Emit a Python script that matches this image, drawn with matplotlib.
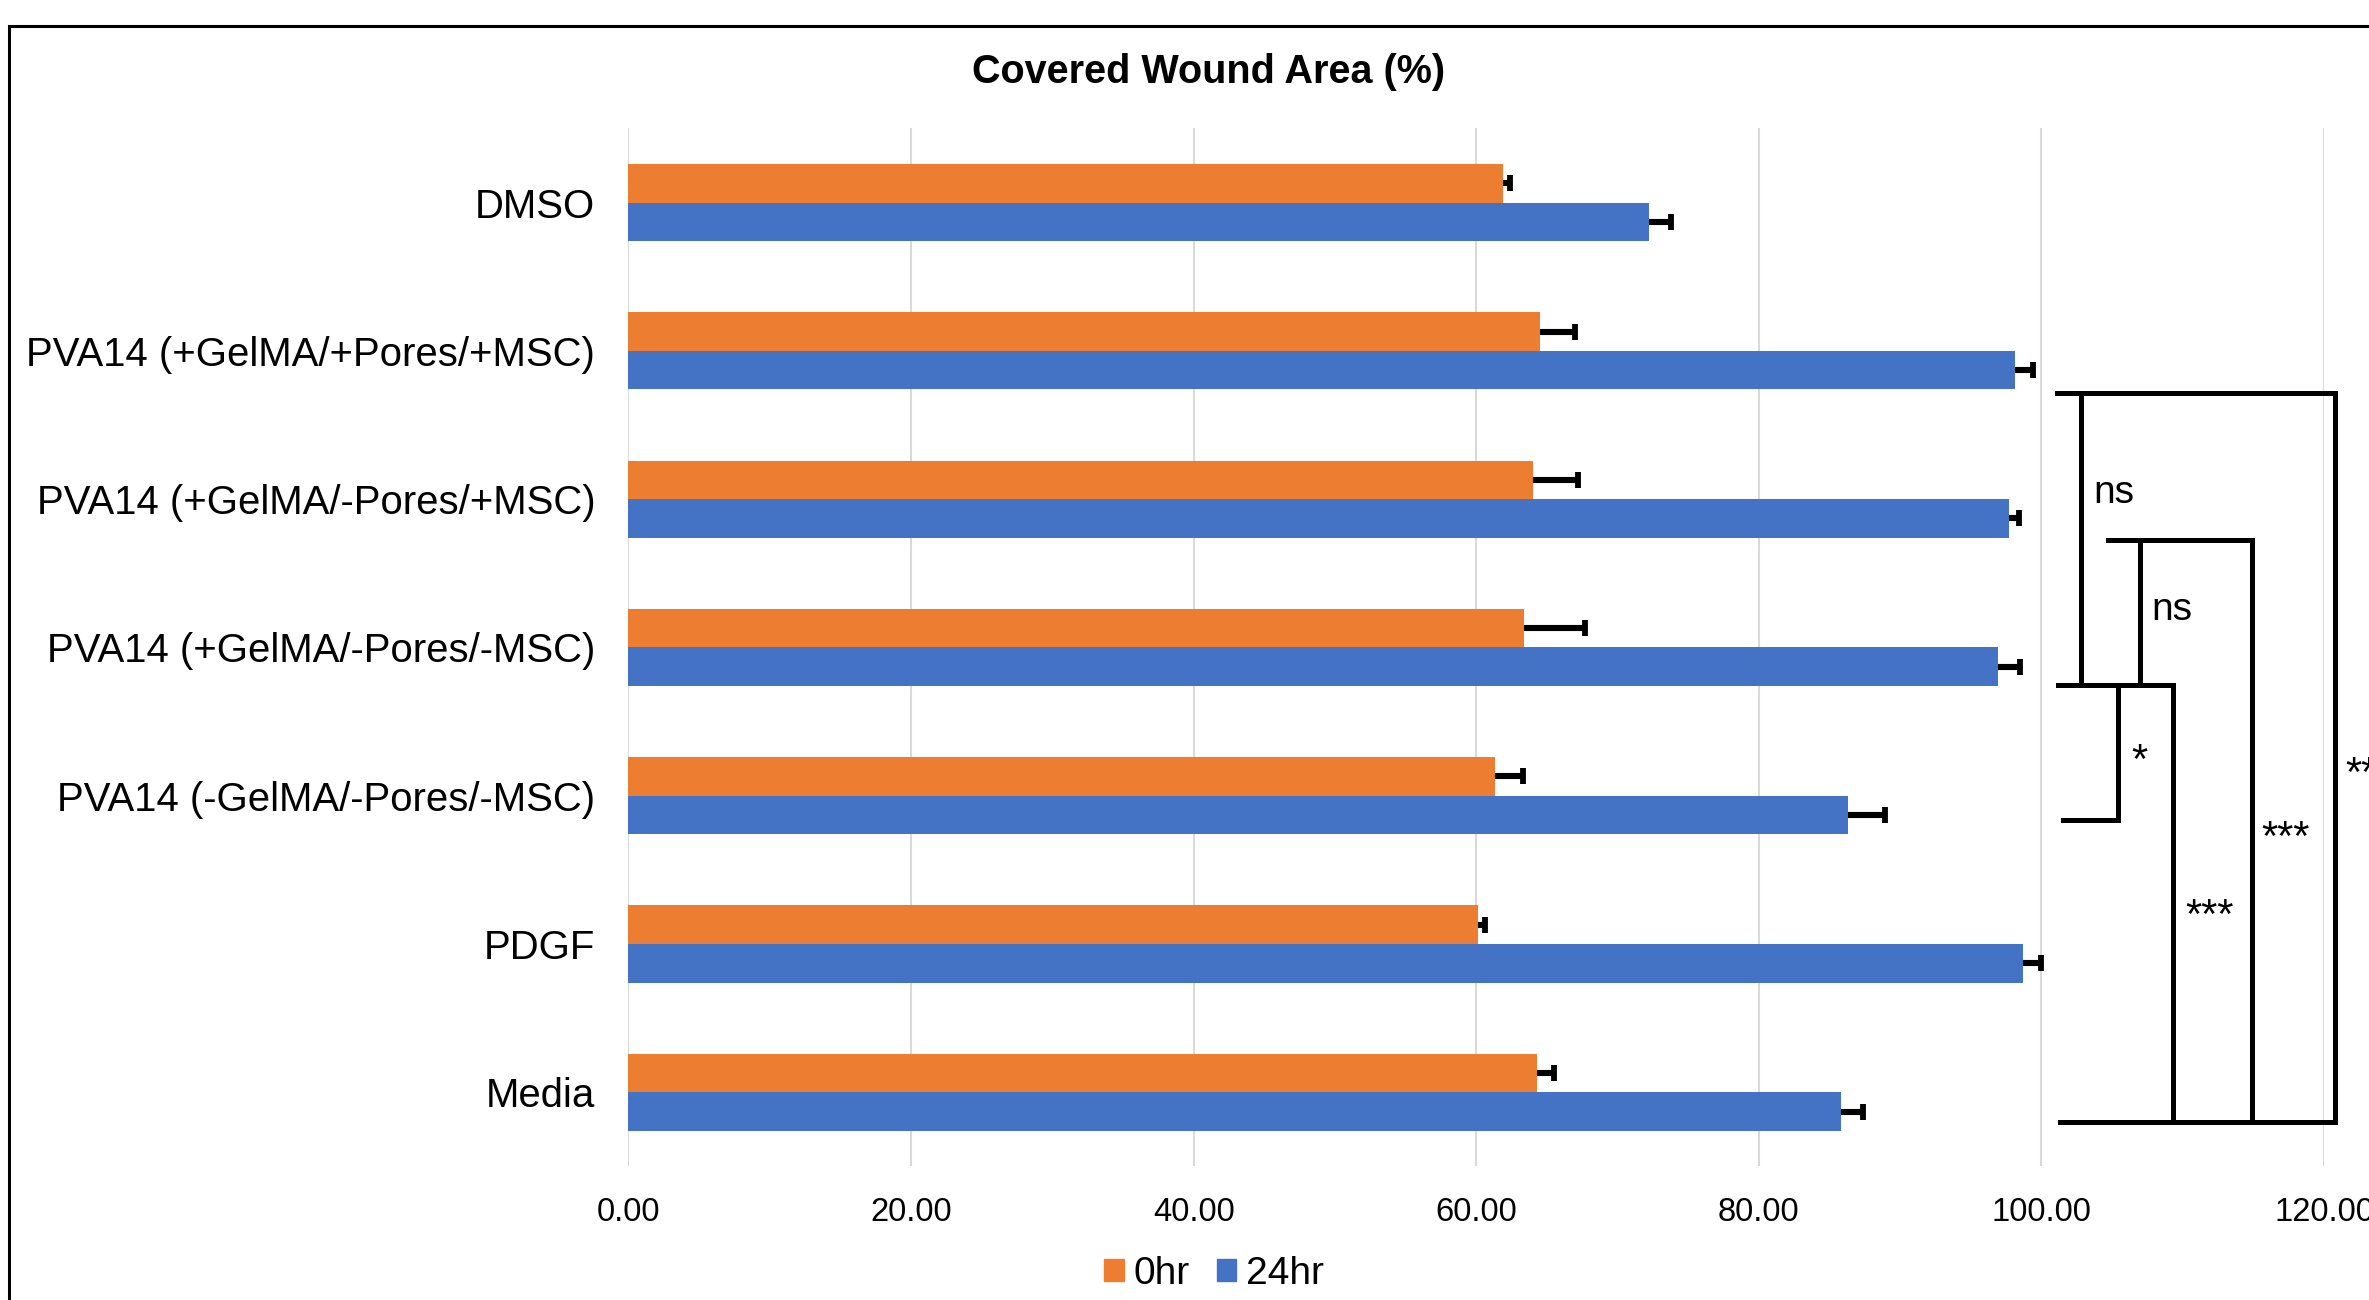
import matplotlib
matplotlib.use("Agg")
import matplotlib.pyplot as plt
from matplotlib.patches import Patch, Rectangle
import numpy as np

plt.rcParams['font.family'] = ['Liberation Sans', 'DejaVu Sans']

categories = ["DMSO", "PVA14 (+GelMA/+Pores/+MSC)", "PVA14 (+GelMA/-Pores/+MSC)",
              "PVA14 (+GelMA/-Pores/-MSC)", "PVA14 (-GelMA/-Pores/-MSC)", "PDGF", "Media"]
vals_0hr = [61.9, 64.5, 64.0, 63.4, 61.3, 60.1, 64.3]
err_0hr = [0.5, 2.5, 3.2, 4.3, 2.0, 0.5, 1.2]
vals_24hr = [72.2, 98.1, 97.7, 96.9, 86.3, 98.7, 85.8]
err_24hr = [1.6, 1.3, 0.7, 1.6, 2.6, 1.3, 1.6]
series_labels = ["0hr", "24hr"]
xticks = [0, 20, 40, 60, 80, 100, 120]

# significance brackets (data units): line segments and labels
bracket_lines = [
    ((101.1, 120.8), (1.286, 1.286)),
    ((120.8, 120.8), (1.286, 6.203)),
    ((101.3, 120.8), (6.203, 6.203)),
    ((102.8, 102.8), (1.286, 3.252)),
    ((101.2, 109.3), (3.252, 3.252)),
    ((105.4, 105.4), (3.252, 4.164)),
    ((101.5, 105.4), (4.164, 4.164)),
    ((104.7, 114.9), (2.274, 2.274)),
    ((107.0, 107.0), (2.274, 3.252)),
    ((114.9, 114.9), (2.274, 6.203)),
    ((109.3, 109.3), (3.252, 6.203)),
]
bracket_labels = [
    (103.7, 1.96, "ns"),
    (107.8, 2.75, "ns"),
    (106.4, 3.77, "*"),
    (115.6, 4.29, "***"),
    (110.2, 4.82, "***"),
    (121.5, 3.86, "***"),
]

orange = "#ED7D31"
blue = "#4472C4"

fig = plt.figure(figsize=(23.69, 13.0), dpi=100)
ax = fig.add_axes([0.2653, 0.1027, 0.7157, 0.7985])

y = np.arange(len(categories))
h = 0.26
y0 = y - h / 2
y1 = y + h / 2
ax.barh(y0, vals_0hr, height=h, color=orange, zorder=2)
ax.barh(y1, vals_24hr, height=h, color=blue, zorder=2)

for yy, v, e in ((y0, vals_0hr, err_0hr), (y1, vals_24hr, err_24hr)):
    v = np.array(v); e = np.array(e)
    ax.hlines(yy, v, v + e, color="black", lw=4.4, zorder=3)
    ax.plot(v + e, yy, ls="none", marker="|", ms=12, mew=4.2, color="black", zorder=3)

ax.set_xlim(0, 120)
ax.set_ylim(len(categories) - 0.5, -0.5)
ax.set_xticks(xticks)
ax.set_xticklabels([f"{t:.2f}" for t in xticks], fontsize=23.6)
ax.set_yticks(y)
ax.set_yticklabels(categories, fontsize=28.9)
ax.tick_params(axis="x", length=0, pad=22)
ax.tick_params(axis="y", length=0, pad=24)
ax.grid(axis="x", color="#D9D9D9", lw=1.5, zorder=0)
ax.set_axisbelow(True)
for s in ax.spines.values():
    s.set_visible(False)

for xs, ys in bracket_lines:
    ax.plot(xs, ys, color="black", lw=3.6, clip_on=False, zorder=4,
            solid_capstyle="projecting")
for bx, by, txt in bracket_labels:
    fs = 28 if txt == "ns" else 30
    ax.text(bx, by, txt, fontsize=fs, ha="left", va="center", clip_on=False)

fig.text(1209 / 2369, 1 - 72 / 1300, "Covered Wound Area (%)", fontsize=28.5,
         fontweight="bold", ha="center", va="center")

handles = [Patch(color=orange, label=series_labels[0]), Patch(color=blue, label=series_labels[1])]
fig.legend(handles=handles, loc="center", bbox_to_anchor=(1214 / 2369, 26 / 1300), ncol=2,
           frameon=False, fontsize=28, handlelength=0.5, handleheight=0.5,
           handletextpad=0.25, columnspacing=0.7, borderpad=0)

fig.patches.append(Rectangle((9 / 2369, -0.1), 1.2, 1 - 26 / 1300 + 0.1,
                             transform=fig.transFigure, fill=False, ec="black", lw=2.2))

fig.savefig("out.png", dpi=100)
